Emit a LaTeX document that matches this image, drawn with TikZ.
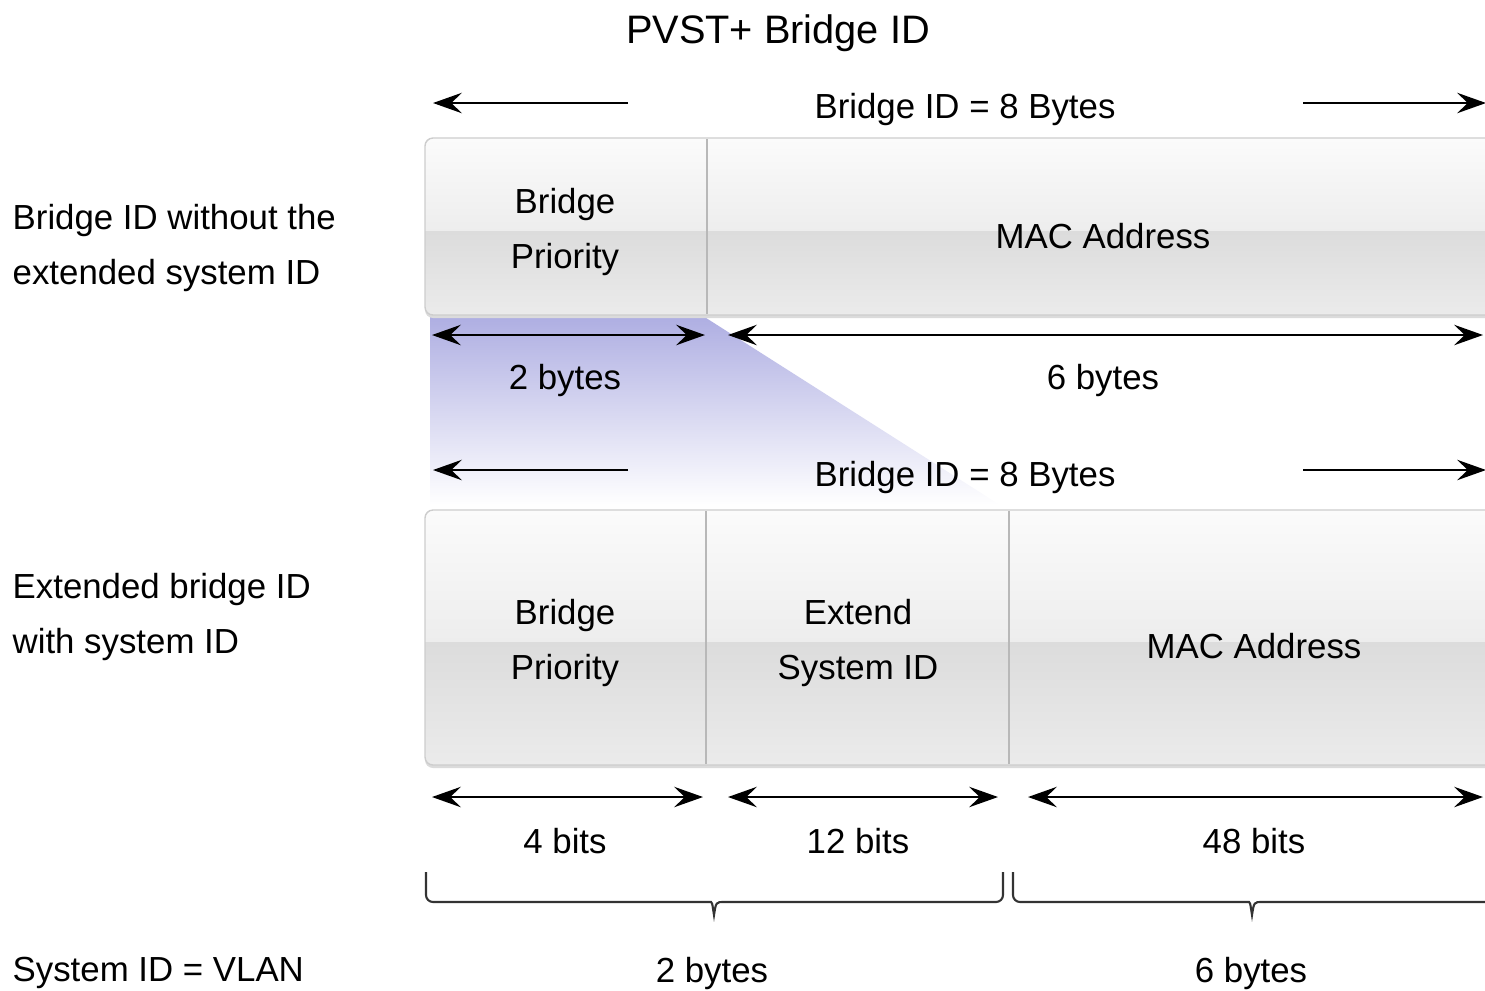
\documentclass[tikz,border=0pt]{standalone}
\usepackage{fontspec}
\setmainfont{Liberation Sans}
\usetikzlibrary{arrows.meta}

\definecolor{boxtop}{RGB}{251,251,251}
\definecolor{boxmid}{RGB}{237,237,237}
\definecolor{boxband}{RGB}{220,220,220}
\definecolor{boxlow}{RGB}{235,235,235}
\definecolor{boxedge}{RGB}{205,205,205}
\definecolor{shadeblue}{RGB}{174,174,226}

% shaded field box: #1 top, #2 bottom
\newcommand{\fieldbox}[2]{%
  \fill[black!14, rounded corners=0.8mm] (425,{#1+3}) rectangle (1560,{#2+3});
  \begin{scope}
    \clip[rounded corners=0.8mm] (425,#1) rectangle (1560,#2);
    \shade[top color=boxtop, bottom color=boxmid] (425,#1) rectangle (1560,{(#1+#2)/2+5});
    \shade[top color=boxband, bottom color=boxlow] (425,{(#1+#2)/2+5}) rectangle (1560,#2);
  \end{scope}
  \draw[boxedge, rounded corners=0.8mm] (425,#1) rectangle (1560,#2);
}

% bracket under the bit fields: #1 left, #2 tip, #3 right
\newcommand{\bracket}[3]{%
  \draw[bracketline] (#1,872) [rounded corners=0.7mm] -- (#1,902) -- ({#2-10},902)
    [sharp corners] .. controls ({#2-2},902) .. (#2,915)
    .. controls ({#2+2},902) .. ({#2+10},902)
    [rounded corners=0.7mm] -- (#3,902) -- (#3,872);
}

\begin{document}
\begin{tikzpicture}[x=0.01cm, y=-0.01cm,
    every node/.style={font=\fontsize{9.9}{15.4}\selectfont, inner sep=0pt, align=center},
    >={Stealth[length=8.2pt, width=5.8pt, inset=3pt]},
    span/.style={line width=0.75pt, <->},
    lead/.style={line width=0.75pt, ->},
    divider/.style={black!28, line width=0.5pt},
    bracketline/.style={black!80, line width=0.6pt}]

	\useasboundingbox (0,0) rectangle (1485,990);
	\clip (0,0) rectangle (1485,990);

	\node (title) at (778,33) {\fontsize{11.3}{14}\selectfont PVST+ Bridge ID};

	\node[anchor=west, align=left] (without) at (12,248) {Bridge ID without the\\extended system ID};
	\node[anchor=west, align=left] (extended) at (12,617) {Extended bridge ID\\with system ID};
	\node[anchor=west] (vlan) at (12,973) {System ID = VLAN};

	% blue projection of the priority field
	\shade[top color=shadeblue, bottom color=white] (430,316) -- (703,316) -- (1000,505) -- (430,505) -- cycle;

	% first bridge id
	\fieldbox{138}{315}
	\draw[divider] (707,139) -- (707,314);
	\node (bp1) at (565,232) {Bridge\\Priority};
	\node (mac1) at (1103,236) {MAC Address};

	\node (len1) at (965,109) {Bridge ID = 8 Bytes};
	\coordinate (l1s) at (628,103);
	\coordinate (l1e) at (433,103);
	\coordinate (r1s) at (1303,103);
	\coordinate (r1e) at (1486,103);
	\draw[lead] (l1s) -- (l1e);
	\draw[lead] (r1s) -- (r1e);

	\coordinate (a1) at (432,335);
	\coordinate (a2) at (705,335);
	\coordinate (a3) at (728,335);
	\coordinate (a4) at (1483,335);
	\draw[span] (a1) -- (a2);
	\draw[span] (a3) -- (a4);
	\node (by2) at (565,380) {2 bytes};
	\node (by6) at (1103,380) {6 bytes};

	% extended bridge id
	\node (len2) at (965,477) {Bridge ID = 8 Bytes};
	\coordinate (l2s) at (628,470);
	\coordinate (l2e) at (433,470);
	\coordinate (r2s) at (1303,470);
	\coordinate (r2e) at (1486,470);
	\draw[lead] (l2s) -- (l2e);
	\draw[lead] (r2s) -- (r2e);

	\fieldbox{510}{765}
	\draw[divider] (706,511) -- (706,764);
	\draw[divider] (1009,511) -- (1009,764);
	\node (bp2) at (565,643) {Bridge\\Priority};
	\node (ext2) at (858,643) {Extend\\System ID};
	\node (mac2) at (1254,646) {MAC Address};

	\coordinate (b1) at (432,797);
	\coordinate (b2) at (703,797);
	\coordinate (b3) at (728,797);
	\coordinate (b4) at (998,797);
	\coordinate (b5) at (1028,797);
	\coordinate (b6) at (1483,797);
	\draw[span] (b1) -- (b2);
	\draw[span] (b3) -- (b4);
	\draw[span] (b5) -- (b6);
	\node (bit4) at (565,841) {4 bits};
	\node (bit12) at (858,841) {12 bits};
	\node (bit48) at (1254,841) {48 bits};

	\bracket{426}{714}{1003}
	\bracket{1013}{1252}{1600}
	\node (sum2) at (712,973) {2 bytes};
	\node (sum6) at (1251,973) {6 bytes};

\end{tikzpicture}
\end{document}
